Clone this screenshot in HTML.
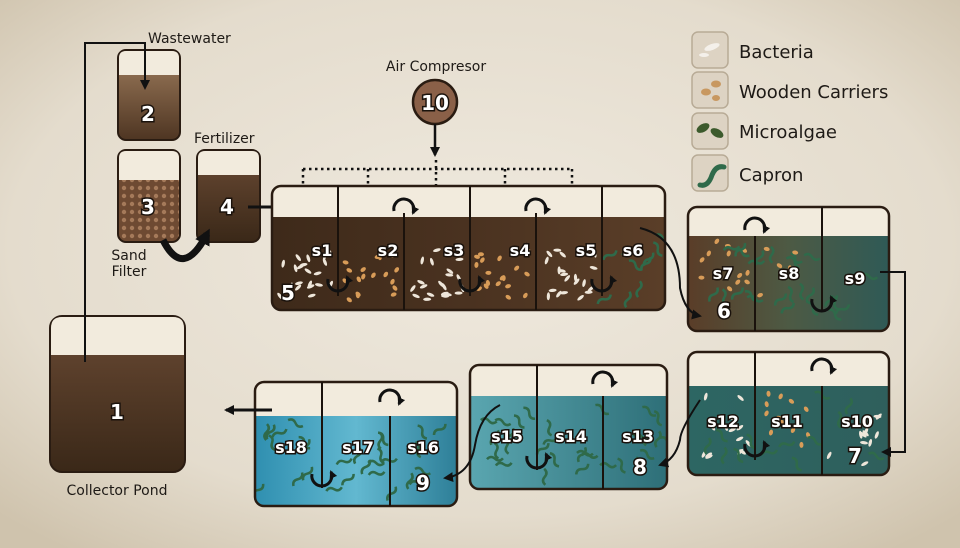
<!DOCTYPE html>
<html><head><meta charset="utf-8"><style>
html,body{margin:0;padding:0;width:960px;height:548px;overflow:hidden}
svg{display:block}
text{font-family:"DejaVu Sans","Liberation Sans",sans-serif}
.lab{font-size:16px;fill:#fff;stroke:#1a120c;stroke-width:3px;paint-order:stroke;font-weight:bold}
.num{font-size:20px;fill:#fff;stroke:#1a120c;stroke-width:3px;paint-order:stroke;font-weight:bold}
.cap{font-size:14px;fill:#1e1a16}
.leg{font-size:18px;fill:#1e1a16}
</style></head><body>
<svg id="s" width="960" height="548" viewBox="0 0 960 548" xmlns="http://www.w3.org/2000/svg">
<defs>
<radialGradient id="bg" cx="50%" cy="45%" r="70%"><stop offset="0" stop-color="#efe9de"/><stop offset="0.7" stop-color="#e4dccd"/><stop offset="1" stop-color="#cfc3ad"/></radialGradient>
<linearGradient id="brown" x1="0" y1="0" x2="0" y2="1"><stop offset="0" stop-color="#6a4a34"/><stop offset="1" stop-color="#3a2818"/></linearGradient>
<linearGradient id="brown2" x1="0" y1="0" x2="0" y2="1"><stop offset="0" stop-color="#a07e5e"/><stop offset="1" stop-color="#4e3522"/></linearGradient>
<linearGradient id="t5" x1="0" y1="0" x2="1" y2="0"><stop offset="0" stop-color="#3e2a1a"/><stop offset="0.5" stop-color="#4a3220"/><stop offset="1" stop-color="#5a3e28"/></linearGradient>
<linearGradient id="t6" x1="0" y1="0" x2="1" y2="0"><stop offset="0" stop-color="#5a3d28"/><stop offset="0.5" stop-color="#4d5a44"/><stop offset="1" stop-color="#2f5a56"/></linearGradient>
<linearGradient id="t7" x1="0" y1="0" x2="1" y2="0"><stop offset="0" stop-color="#2d6663"/><stop offset="1" stop-color="#2f5f5c"/></linearGradient>
<linearGradient id="t8" x1="0" y1="0" x2="1" y2="0"><stop offset="0" stop-color="#5aa6b0"/><stop offset="1" stop-color="#2e6f78"/></linearGradient>
<linearGradient id="t9" x1="0" y1="0" x2="1" y2="0"><stop offset="0" stop-color="#2f8fb0"/><stop offset="0.5" stop-color="#62b8d0"/><stop offset="1" stop-color="#2e7f98"/></linearGradient>
<pattern id="hatch" width="8" height="8" patternUnits="userSpaceOnUse"><rect width="8" height="8" fill="#6e4a32"/><circle cx="4" cy="4" r="2.2" fill="#a57a5a"/></pattern>
<marker id="ah" markerWidth="10" markerHeight="10" refX="8" refY="5" orient="auto" markerUnits="userSpaceOnUse"><path d="M0,0 L10,5 L0,10z" fill="#111"/></marker>
<marker id="ahs" markerWidth="8" markerHeight="8" refX="6" refY="4" orient="auto" markerUnits="userSpaceOnUse"><path d="M0,0 L8,4 L0,8z" fill="#111"/></marker>
<marker id="ahb" markerWidth="16" markerHeight="16" refX="10" refY="8" orient="auto" markerUnits="userSpaceOnUse"><path d="M0,0 L16,8 L0,16z" fill="#111"/></marker>
<clipPath id="c5"><rect x="272" y="186" width="393" height="124" rx="9"/></clipPath>
<clipPath id="c6"><rect x="688" y="207" width="201" height="124" rx="9"/></clipPath>
<clipPath id="c7"><rect x="688" y="352" width="201" height="123" rx="9"/></clipPath>
<clipPath id="c8"><rect x="470" y="365" width="197" height="124" rx="9"/></clipPath>
<clipPath id="c9"><rect x="255" y="382" width="202" height="124" rx="9"/></clipPath>
</defs>
<rect width="960" height="548" fill="url(#bg)"/>

<rect x="118" y="50" width="62" height="90" rx="8" fill="url(#brown2)" stroke="#2a1c12" stroke-width="2"/>
<path d="M119 58 q0-7 7-7 h46 q7 0 7 7 v17 h-60z" fill="#f2ebdd"/>
<text x="148" y="121" class="num" text-anchor="middle">2</text>
<rect x="118" y="150" width="62" height="92" rx="8" fill="url(#hatch)" stroke="#2a1c12" stroke-width="2"/>
<path d="M119 158 q0-7 7-7 h46 q7 0 7 7 v22 h-60z" fill="#f2ebdd"/>
<text x="148" y="214" class="num" text-anchor="middle">3</text>
<rect x="197" y="150" width="63" height="92" rx="8" fill="url(#brown)" stroke="#2a1c12" stroke-width="2"/>
<path d="M198 158 q0-7 7-7 h47 q7 0 7 7 v17 h-61z" fill="#f2ebdd"/>
<text x="227" y="214" class="num" text-anchor="middle">4</text>
<rect x="50" y="316" width="135" height="156" rx="12" fill="url(#brown)" stroke="#2a1c12" stroke-width="2"/>
<path d="M51 328 q0-11 11-11 h111 q11 0 11 11 v27 h-133z" fill="#f2ebdd"/>
<text x="117" y="419" class="num" text-anchor="middle">1</text>

<text x="148" y="43" class="cap">Wastewater</text>
<text x="194" y="143" class="cap">Fertilizer</text>
<text x="129" y="260" class="cap" text-anchor="middle">Sand</text>
<text x="129" y="276" class="cap" text-anchor="middle">Filter</text>
<text x="117" y="495" class="cap" text-anchor="middle">Collector Pond</text>

<path d="M85 362 V43 h60 V88" fill="none" stroke="#111" stroke-width="2" marker-end="url(#ah)"/>
<path d="M163 240 q20 40 44 -6" fill="none" stroke="#111" stroke-width="7" marker-end="url(#ahb)"/>
<path d="M248 207 H288" stroke="#111" stroke-width="3" marker-end="url(#ah)"/>

<text x="436" y="71" class="cap" text-anchor="middle">Air Compresor</text>
<circle cx="435" cy="102" r="22" fill="#8a6048" stroke="#2a1c12" stroke-width="2.5"/>
<text x="435" y="110" class="num" text-anchor="middle">10</text>
<path d="M435 124 V155" stroke="#111" stroke-width="2.5" marker-end="url(#ah)"/>
<g stroke="#111" stroke-width="2.5" stroke-dasharray="2.5 3.5" fill="none">
<path d="M303 169 H572"/><path d="M303 169 V258"/><path d="M368 169 V255"/><path d="M436 160 V255"/><path d="M505 169 V255"/><path d="M572 169 V258"/>
</g>

<g clip-path="url(#c5)"><rect x="272" y="186" width="393" height="124" fill="url(#t5)"/><rect x="272" y="186" width="393" height="31" fill="#f2ebdd"/><g id="p5"></g></g>
<rect x="272" y="186" width="393" height="124" rx="9" fill="none" stroke="#2a1c12" stroke-width="2.5"/>
<g stroke="#1a120c" stroke-width="2"><path d="M338 186V296M470 186V296M602 186V296M404 213V310M536 213V310"/></g>

<g clip-path="url(#c6)"><rect x="688" y="207" width="201" height="124" fill="url(#t6)"/><rect x="688" y="207" width="201" height="29" fill="#f2ebdd"/><g id="p6"></g></g>
<rect x="688" y="207" width="201" height="124" rx="9" fill="none" stroke="#2a1c12" stroke-width="2.5"/>
<path d="M755 236V331M822 207V312" stroke="#1a120c" stroke-width="2"/>
<g clip-path="url(#c7)"><rect x="688" y="352" width="201" height="123" fill="url(#t7)"/><rect x="688" y="352" width="201" height="34" fill="#f2ebdd"/><g id="p7"></g></g>
<rect x="688" y="352" width="201" height="123" rx="9" fill="none" stroke="#2a1c12" stroke-width="2.5"/>
<path d="M755 352V460M822 386V475" stroke="#1a120c" stroke-width="2"/>
<g clip-path="url(#c8)"><rect x="470" y="365" width="197" height="124" fill="url(#t8)"/><rect x="470" y="365" width="197" height="31" fill="#f2ebdd"/><g id="p8"></g></g>
<rect x="470" y="365" width="197" height="124" rx="9" fill="none" stroke="#2a1c12" stroke-width="2.5"/>
<path d="M537 365V470M603 396V489" stroke="#1a120c" stroke-width="2"/>
<g clip-path="url(#c9)"><rect x="255" y="382" width="202" height="124" fill="url(#t9)"/><rect x="255" y="382" width="202" height="34" fill="#f2ebdd"/><g id="p9"></g></g>
<rect x="255" y="382" width="202" height="124" rx="9" fill="none" stroke="#2a1c12" stroke-width="2.5"/>
<path d="M322 382V488M390 416V506" stroke="#1a120c" stroke-width="2"/>

<g fill="none" stroke="#111" stroke-width="3" id="loops"></g>

<g class="lab">
<text x="322" y="256" text-anchor="middle">s1</text><text x="388" y="256" text-anchor="middle">s2</text><text x="454" y="256" text-anchor="middle">s3</text><text x="520" y="256" text-anchor="middle">s4</text><text x="586" y="256" text-anchor="middle">s5</text><text x="633" y="256" text-anchor="middle">s6</text>
<text x="723" y="279" text-anchor="middle">s7</text><text x="789" y="279" text-anchor="middle">s8</text><text x="855" y="284" text-anchor="middle">s9</text>
<text x="723" y="427" text-anchor="middle">s12</text><text x="787" y="427" text-anchor="middle">s11</text><text x="857" y="427" text-anchor="middle">s10</text>
<text x="507" y="442" text-anchor="middle">s15</text><text x="571" y="442" text-anchor="middle">s14</text><text x="638" y="442" text-anchor="middle">s13</text>
<text x="291" y="453" text-anchor="middle">s18</text><text x="358" y="453" text-anchor="middle">s17</text><text x="423" y="453" text-anchor="middle">s16</text>
</g>
<g class="num">
<text x="288" y="300" text-anchor="middle">5</text><text x="724" y="318" text-anchor="middle">6</text><text x="855" y="463" text-anchor="middle">7</text><text x="640" y="474" text-anchor="middle">8</text><text x="423" y="490" text-anchor="middle">9</text>
</g>

<g fill="none" stroke="#111" stroke-width="2">
<path d="M640 228 q40 10 40 60 q5 25 20 28" marker-end="url(#ah)"/>
<path d="M880 272 h25 V452 h-22" marker-end="url(#ah)"/>
<path d="M700 400 q-20 30 -20 40 q-5 20 -20 25" marker-end="url(#ah)"/>
<path d="M500 405 q-20 10 -25 40 q-5 30 -30 33" marker-end="url(#ah)"/>
</g>
<path d="M272 410 H226" stroke="#111" stroke-width="3" marker-end="url(#ah)"/>

<g stroke="#b8ab96" stroke-width="1.5" fill="#ddd3c3">
<rect x="692" y="32" width="36" height="36" rx="6"/><rect x="692" y="72" width="36" height="36" rx="6"/><rect x="692" y="113" width="36" height="36" rx="6"/><rect x="692" y="155" width="36" height="36" rx="6"/>
</g>
<ellipse cx="712" cy="47" rx="8" ry="3" fill="#f4f0ea" transform="rotate(-20 712 47)"/><ellipse cx="704" cy="55" rx="5" ry="2" fill="#f4f0ea"/>
<ellipse cx="716" cy="84" rx="5" ry="3.5" fill="#c89860"/><ellipse cx="706" cy="92" rx="5" ry="3.5" fill="#c89860"/><ellipse cx="716" cy="98" rx="4" ry="3" fill="#c89860"/>
<ellipse cx="703" cy="128" rx="7" ry="4" fill="#3c5a2c" transform="rotate(-30 703 128)"/><ellipse cx="717" cy="133" rx="7" ry="4" fill="#3c5a2c" transform="rotate(30 717 133)"/>
<path d="M700 185 q8 2 12 -10 q4 -10 12 -8" fill="none" stroke="#2f6a4a" stroke-width="5" stroke-linecap="round"/>
<g class="leg"><text x="739" y="58">Bacteria</text><text x="739" y="98">Wooden Carriers</text><text x="739" y="138">Microalgae</text><text x="739" y="181">Capron</text></g>
</svg>
<script>
var s=7;function r(){s=(s*16807)%2147483647;return s/2147483647;}
var NS="http://www.w3.org/2000/svg";
function add(g,el,at){var e=document.createElementNS(NS,el);for(var k in at)e.setAttribute(k,at[k]);document.getElementById(g).appendChild(e);}
function fill(g,x0,x1,y0,y1,type,n){for(var i=0;i<n;i++){var x=x0+r()*(x1-x0),y=y0+r()*(y1-y0),a=r()*180;
if(type=='b')add(g,'ellipse',{cx:x,cy:y,rx:4,ry:1.6,fill:'#eee6da',transform:'rotate('+a+' '+x+' '+y+')'});
else if(type=='w')add(g,'ellipse',{cx:x,cy:y,rx:3,ry:2,fill:'#d89c58',transform:'rotate('+a+' '+x+' '+y+')'});
else add(g,'path',{d:'M'+x+' '+y+' q4 -4 8 0 q4 4 8 0',stroke:'#2f6a4a','stroke-width':2.5,fill:'none',transform:'rotate('+a+' '+x+' '+y+')'});}}
fill('p5',280,335,250,300,'b',20);fill('p5',345,400,250,300,'w',18);fill('p5',410,465,250,300,'b',20);fill('p5',475,530,250,300,'w',18);fill('p5',540,595,250,300,'b',20);fill('p5',605,660,235,300,'c',10);
fill('p6',695,750,240,300,'w',12);fill('p6',695,750,240,300,'c',8);fill('p6',760,815,245,305,'c',12);fill('p6',760,815,245,305,'w',5);fill('p6',828,880,250,310,'c',5);
fill('p7',695,750,395,465,'b',14);fill('p7',695,750,395,465,'c',5);fill('p7',760,815,390,460,'w',12);fill('p7',760,815,390,460,'c',5);fill('p7',828,880,395,465,'b',12);fill('p7',828,880,395,465,'c',3);
fill('p8',478,532,400,470,'c',10);fill('p8',542,598,400,470,'c',10);fill('p8',608,660,400,470,'c',10);
fill('p9',262,318,420,490,'c',10);fill('p9',328,386,420,490,'c',10);fill('p9',395,450,420,490,'c',8);
var loops=[[404,213,1],[536,213,1],[338,285,0],[470,285,0],[602,285,0],[755,232,1],[822,305,0],[822,373,1],[755,450,0],[603,386,1],[537,462,0],[390,404,1],[322,480,0]];
loops.forEach(function(l){var x=l[0],y=l[1];var d=l[2]?'M'+(x-10)+' '+(y-2)+' a10 10 0 1 1 19 2':'M'+(x-10)+' '+(y-6)+' a10 10 0 1 0 19 -2';
add('loops','path',{d:d,'marker-end':'url(#ahs)'});});
</script>
</body></html>
